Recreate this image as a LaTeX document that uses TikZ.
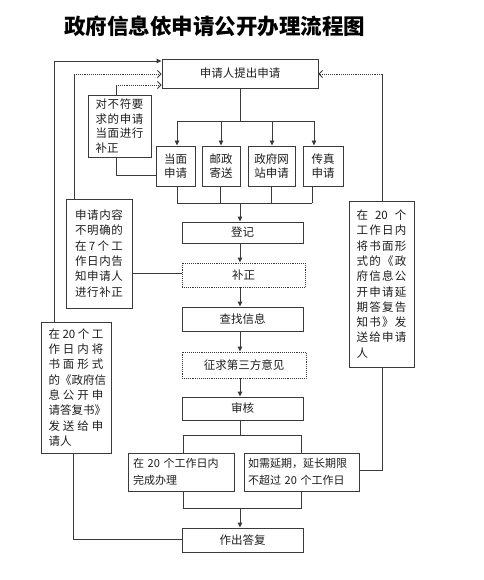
\documentclass[tikz,border=0pt]{standalone}
\usepackage{fontspec}
\setmainfont{Noto Sans CJK SC}
\usetikzlibrary{arrows.meta,calc}
\definecolor{linec}{HTML}{3A3A3A}
\definecolor{txtc}{HTML}{1E1E1E}
\newdimen\jlw
\def\jlEnd{\jlEnd}
\def\jline#1{\leavevmode\hbox to\jlw{\jlA#1\jlEnd}}
\def\jbox#1{\leavevmode\hbox to\jlw{#1}}
\def\jlA#1{#1\jlB}
\def\jlB#1{\ifx#1\jlEnd\else\hfil#1\expandafter\jlB\fi}
\begin{document}
\begin{tikzpicture}[x=1pt,y=-1pt,
  box/.style={draw=linec, line width=0.9pt, inner sep=0pt, text=txtc,
    font=\fontsize{11.5pt}{14pt}\selectfont, align=center},
  dotbox/.style={box, densely dotted},
  side/.style={box, align=left, font=\fontsize{11.5pt}{15.3pt}\selectfont},
  conn/.style={draw=linec, line width=0.9pt},
  arr/.style={conn, -{Triangle[length=5pt,width=4.5pt]}},
  darr/.style={conn, densely dotted, -{Straight Barb[length=3.5pt,width=7pt,line width=0.8pt]}}
]
\useasboundingbox[fill=white] (0,0) rectangle (483,580);
\node[font=\fontsize{21.5pt}{24pt}\selectfont\bfseries, text=black] (title) at (214.5,26) {政府信息依申请公开办理流程图};

% main column
\node[box, minimum width=156pt, minimum height=29pt] (top) at (240,73.5) {申请人提出申请};
\node[box, minimum width=39pt, minimum height=40pt] (b1) at (175.5,166) {当面\\申请};
\node[box, minimum width=38pt, minimum height=40pt] (b2) at (221,166) {邮政\\寄送};
\node[box, minimum width=47pt, minimum height=40pt] (b3) at (271.5,166) {政府网\\站申请};
\node[box, minimum width=40pt, minimum height=40pt] (b4) at (323,166) {传真\\申请};
\node[box, minimum width=121pt, minimum height=21pt] (dj) at (242.5,232.5) {登记};
\node[dotbox, minimum width=123pt, minimum height=24pt] (bz) at (243.5,275) {补正};
\node[box, minimum width=121pt, minimum height=24pt] (cz) at (242.5,319) {查找信息};
\node[dotbox, minimum width=124pt, minimum height=26pt] (zq) at (244,365) {征求第三方意见};
\node[box, minimum width=121pt, minimum height=23pt] (sh) at (242.5,408.5) {审核};
\node[box, align=left, minimum width=106pt, minimum height=38pt, text width=96pt, font=\fontsize{11pt}{17pt}\selectfont] (c1) at (181,472) {在 20 个工作日内\\完成办理};
\node[box, align=left, minimum width=115pt, minimum height=38pt, text width=107pt, font=\fontsize{11pt}{17pt}\selectfont] (c2) at (301.5,472) {如需延期，延长期限\\不超过 20 个工作日};
\node[box, minimum width=121pt, minimum height=24pt] (zc) at (242.5,540) {作出答复};

% side boxes
\node[side, minimum width=63pt, minimum height=62pt, text width=48pt, font=\fontsize{11.5pt}{14.5pt}\selectfont] (l1) at (119.5,126)
  {\jlw=48pt\relax\jline{对不符要}\\\jline{求的申请}\\\jline{当面进行}\\补正};
\node[side, minimum width=66pt, minimum height=109pt, text width=48pt] (l2) at (99,253.5)
  {\jlw=48pt\relax\jline{申请内容}\\\jline{不明确的}\\\jbox{在\hfil 7\hfil 个\hfil 工}\\\jline{作日内告}\\\jline{知申请人}\\\jline{进行补正}};
\node[side, minimum width=70pt, minimum height=131pt, text width=55pt] (l3) at (76,387.5)
  {\jlw=55pt\relax\jbox{在\hfil 20\hfil 个\hfil 工}\\\jline{作日内将}\\\jline{书面形式}\\\jline{的《政府信}\\\jline{息公开申}\\\jline{请答复书》}\\\jline{发送给申}\\请人};
\node[side, minimum width=65pt, minimum height=166pt, text width=50pt] (r) at (381.5,284)
  {\jlw=50pt\relax\jbox{在\hfil 20\hfil 个}\\\jline{工作日内}\\\jline{将书面形}\\\jline{式的《政}\\\jline{府信息公}\\\jline{开申请延}\\\jline{期答复告}\\\jline{知书》发}\\\jline{送给申请}\\人};

% helper coordinates
\coordinate (sp) at (240,0);
\coordinate (t1) at (177,121); \coordinate (t2) at (221,121);
\coordinate (t3) at (272,121); \coordinate (t4) at (314,121);
\coordinate (m1) at (177,203); \coordinate (m2) at (220,203);
\coordinate (m3) at (271,203); \coordinate (m4) at (312,203);
\coordinate (k1) at (183,435); \coordinate (k2) at (301,435);
\coordinate (j1) at (183,508); \coordinate (j2) at (301,508);

% distribution tree
\draw[conn] (top.south -| sp) -- (t1 -| sp);
\draw[conn] (t1) -- (t4);
\draw[arr] (t1) -- (b1.north -| t1);
\draw[arr] (t2) -- (b2.north -| t2);
\draw[arr] (t3) -- (b3.north -| t3);
\draw[arr] (t4) -- (b4.north -| t4);
% merge
\draw[conn] (b1.south -| m1) -- (m1);
\draw[conn] (b2.south -| m2) -- (m2);
\draw[conn] (b3.south -| m3) -- (m3);
\draw[conn] (b4.south -| m4) -- (m4);
\draw[conn] (m1) -- (m4);
\draw[arr] (m1 -| sp) -- (dj.north -| sp);
% chain
\draw[arr] (dj.south -| sp) -- (bz.north -| sp);
\draw[arr] (bz.south -| sp) -- (cz.north -| sp);
\draw[arr] (cz.south -| sp) -- (zq.north -| sp);
\draw[arr] (zq.south -| sp) -- (sh.north -| sp);
% split
\draw[conn] (sh.south -| sp) -- (k1 -| sp);
\draw[conn] (k1) -- (k2);
\draw[conn] (k1) -- (c1.north -| k1);
\draw[conn] (k2) -- (c2.north -| k2);
\draw[conn] (c1.south -| j1) -- (j1) -- (j2) -- (c2.south -| j2);
\draw[arr] (j1 -| sp) -- (zc.north -| sp);

% side connections
\coordinate (y61) at (0,61); \coordinate (y74) at (0,74); \coordinate (y85) at (0,85);
\coordinate (xl1) at (116,0); \coordinate (xl2) at (74,0); \coordinate (xl3) at (54,0);
\coordinate (xl3b) at (73,0); \coordinate (xr) at (382,0);
\draw[conn] (l1.north -| xl1) -- (xl1 |- y85);
\draw[darr] (xl1 |- y85) -- (top.west |- y85);
\draw[conn] (l1.south -| xl1) -- (xl1 |- 0,175) -- (b1.west |- 0,175);
\draw[conn] (l2.north -| xl2) -- (xl2 |- y74);
\draw[darr] (xl2 |- y74) -- (top.west |- y74);
\draw[conn] (l2.east |- 0,273) -- (bz.west |- 0,273);
\draw[arr] (l3.north -| xl3) -- (xl3 |- y61) -- (top.west |- y61);
\draw[conn] (l3.south -| xl3b) -- (xl3b |- 0,539) -- (zc.west |- 0,539);
\draw[conn] (r.north -| xr) -- (xr |- y74);
\draw[darr] (xr |- y74) -- (top.east |- y74);
\draw[conn] (r.south -| xr) -- (xr |- 0,470) -- (c2.east |- 0,470);
\end{tikzpicture}
\end{document}
